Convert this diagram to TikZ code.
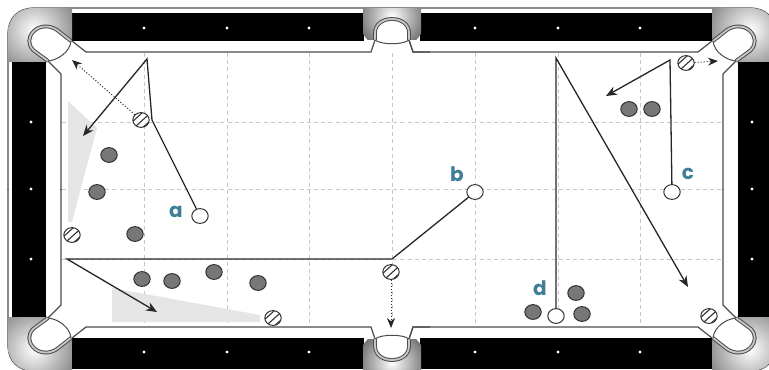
\documentclass[tikz,border=0pt]{standalone}
\usepackage{xcolor}
\usepackage{fontspec}
\usepackage{tikz}
\usetikzlibrary{
  positioning,
  arrows.meta,
  shapes.geometric
}
\newfontfamily\labelfont{Poppins}
\definecolor{labelblue}{HTML}{3F7D98}
\definecolor{objball}{HTML}{777777}

\begin{document}
\begin{tikzpicture}[
  x=0.5pt, y=-0.5pt,
  ball/.style={draw=black!80, ellipse, line width=0.5pt, minimum width=8.2pt, minimum height=7.4pt, inner sep=0pt},
  cueball/.style={ball, fill=white},
  objectball/.style={ball, fill=objball},
  stripeball/.style={ball, fill=white, path picture={
    \foreach \s in {-1.6pt,0.4pt,2.4pt} {
      \draw[black!80, line width=0.55pt] ([shift={(\s-4pt,-\s-3.6pt)}]path picture bounding box.center) -- ([shift={(\s+4pt,-\s+3.6pt)}]path picture bounding box.center);
    }}},
  shot/.style={draw=black!85, line width=0.65pt},
  shotarrow/.style={shot, -{Stealth[length=5.5pt, width=4.5pt]}},
  sidearrow/.style={draw=black!85, line width=0.5pt, densely dotted, -{Stealth[length=5pt, width=4pt]}},
  gridline/.style={draw=black!22, line width=0.45pt, dash pattern=on 2pt off 1.6pt},
  cushion/.style={draw=black!70, line width=0.6pt},
  pocketring/.style={draw=black!70, line width=0.5pt, double=black!22, double distance=0.9pt},
  pocketlip/.style={draw=black!70, line width=0.5pt},
  railspot/.style={fill=white, draw=none},
  zonefill/.style={fill=black!10, draw=none},
  shotlabel/.style={font=\labelfont\bfseries\fontsize{10}{10}\selectfont, text=labelblue, inner sep=0pt},
]
\useasboundingbox (0,0) rectangle (769,369);
\clip (0,0) rectangle (769,369);

% Cuatro cuartos de la mesa
\foreach \mx/\sx in {0/1,784/-1} {
  \foreach \my/\sy in {0/1,379/-1} {
    \begin{scope}[shift={(\mx,\my)}, xscale=\sx, yscale=\sy]
      % bandas negras
      \fill[black] (72,10.5) rectangle (364,41);
      \fill[black] (12,60) rectangle (46,190);
      \fill[white] (72,9) rectangle (364,13);
      % marco exterior
      \draw[black!70, line width=0.6pt] (8,190) -- (8,34) .. controls (8,18) and (18,8) .. (34,8) -- (392,8);
      % esquina con degradado
      \begin{scope}
        \clip (8,62) -- (8,34) .. controls (8,18) and (18,8) .. (34,8) -- (72,8) -- (72,41) -- (46,62) -- cycle;
        \shade[inner color=white, outer color=black!55] (34,30) circle (52);
      \end{scope}
      % tronera de esquina
      \fill[white] (71,41) -- (57,30) .. controls (50,25) and (39,25) .. (33,32) .. controls (28,38) and (28,44) .. (33,50) -- (48,61) .. controls (58,60) and (70,52) .. (71,41) -- cycle;
      \draw[pocketring] (71,41) -- (57,30) .. controls (50,25) and (39,25) .. (33,32) .. controls (28,38) and (28,44) .. (33,50) -- (48,61);
      \draw[pocketlip] (48,61) .. controls (58,60) and (70,52) .. (71,41);
      % banda blanca
      \draw[cushion] (61,190) -- (61,74) -- (48,61);
      \draw[cushion] (72,41) -- (86,52) -- (371,52) -- (375,40);
    \end{scope}
  }
}
% Banda inferior hasta el borde
\fill[black] (72,339) rectangle (364,369);
\fill[black] (420,339) rectangle (712,369);

% Troneras centrales
\foreach \my/\sy in {0/1,379/-1} {
  \begin{scope}[shift={(0,\my)}, yscale=\sy]
    \begin{scope}
      \clip (363,9) rectangle (421,40);
      \shade[inner color=white, outer color=black!55] (392,16) circle (34);
    \end{scope}
    \fill[white] (375,40) -- (375,33) .. controls (375,24) and (383,19) .. (392,19) .. controls (401,19) and (409,24) .. (409,33) -- (409,40) .. controls (403,45) and (381,45) .. (375,40) -- cycle;
    \draw[pocketring] (375,40) -- (375,33) .. controls (375,24) and (383,19) .. (392,19) .. controls (401,19) and (409,24) .. (409,33) -- (409,40);
    \draw[pocketlip] (375,40) .. controls (381,45) and (403,45) .. (409,40);
    \draw[cushion] (409,40) -- (413,52) -- (430,52);
  \end{scope}
}

% Puntos de las bandas
\foreach \x in {144,227,309,475,558,640} {
  \fill[railspot] (\x,28) circle (1.6);
  \fill[railspot] (\x,352) circle (1.6);
}
\foreach \y in {122,189,259} {
  \fill[railspot] (31,\y) circle (1.6);
  \fill[railspot] (752,\y) circle (1.6);
}

% Cuadricula
\foreach \x in {144,227,309,392,475,558,640} {
  \draw[gridline] (\x,53) -- (\x,326);
}
\foreach \y in {122,189,259} {
  \draw[gridline] (62,\y) -- (721,\y);
}

% Zonas de posicion
\fill[zonefill] (68,101) -- (97,128) -- (72,222) -- (68,222) -- cycle;
\fill[zonefill] (112,288) -- (260,315) -- (260,322) -- (112,322) -- cycle;

% Bolas blancas
\node[cueball] (a) at (200,216) {};
\node[cueball] (b) at (475,192) {};
\node[cueball] (c) at (672,192) {};
\node[cueball] (d) at (556,316) {};

% Bolas lisas
\node[objectball] (o1) at (109,155) {};
\node[objectball] (o2) at (97,192) {};
\node[objectball] (o3) at (135,234) {};
\node[objectball] (o4) at (142,279) {};
\node[objectball] (o5) at (172,281) {};
\node[objectball] (o6) at (214,272) {};
\node[objectball] (o7) at (258,283) {};
\node[objectball] (o8) at (629,109) {};
\node[objectball] (o9) at (652,109) {};
\node[objectball] (o10) at (533,312) {};
\node[objectball] (o11) at (576,293) {};
\node[objectball] (o12) at (582,314) {};

% Bolas rayadas
\node[stripeball] (s1) at (141,120) {};
\node[stripeball] (s2) at (72,235) {};
\node[stripeball] (s3) at (273,318) {};
\node[stripeball] (s4) at (391,272) {};
\node[stripeball] (s5) at (686,63) {};
\node[stripeball] (s6) at (709,316) {};

% Puntos de giro
\coordinate (a1) at (152,120);
\coordinate (a2) at (147,59);
\coordinate (a3) at (83,136);
\coordinate (b1) at (392,259);
\coordinate (b2) at (67,259);
\coordinate (b3) at (157,312);
\coordinate (c1) at (670,60);
\coordinate (c2) at (606,96);
\coordinate (d1) at (556,58);
\coordinate (d2) at (688,287);
\coordinate (p1) at (72,60);
\coordinate (p2) at (391,328);
\coordinate (p3) at (718,61);

% Trayectorias
\draw[shotarrow] (a) -- (a1) -- (a2) -- (a3);
\draw[shotarrow] (b) -- (b1) -- (b2) -- (b3);
\draw[shotarrow] (c) -- (c1) -- (c2);
\draw[shotarrow] (d) -- (d1) -- (d2);
\draw[sidearrow] (s1) -- (p1);
\draw[sidearrow] (s4) -- (p2);
\draw[sidearrow] (s5) -- (p3);

% Etiquetas
\node[shotlabel] (la) at (176,212) {a};
\node[shotlabel] (lb) at (457,174) {b};
\node[shotlabel] (lc) at (688,174) {c};
\node[shotlabel] (ld) at (540,288) {d};

\end{tikzpicture}
\end{document}
